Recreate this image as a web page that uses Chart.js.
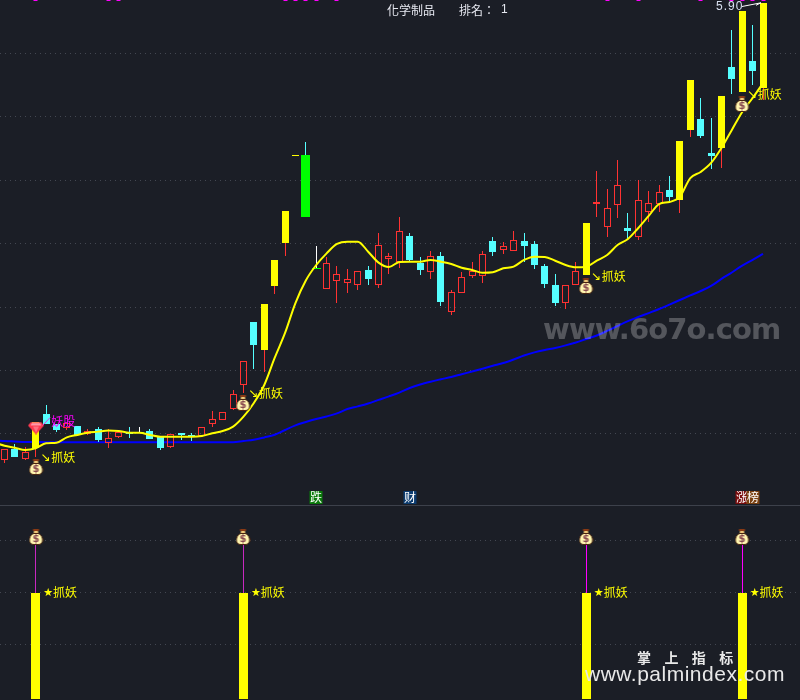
<!DOCTYPE html>
<html>
<head>
<meta charset="utf-8">
<style>
  html, body { margin: 0; padding: 0; background: #1b1e26; }
  canvas { display: block; }
</style>
<script src="https://cdn.jsdelivr.net/npm/chart.js@4/dist/chart.umd.js"></script>
</head>
<body>
<canvas id="myChart" width="800" height="700"></canvas>
<script>
// r = red hollow, c = cyan, y = yellow, g = green, w = white doji
const kinds = ['r','c','r','y','c','c','r','c','r','c','r','r','c','w','c','c','r','c','c','r','r','r','r','r','c','y','y','y','y','g','w','r','r','r','r','c','r','r','r','c','c','r','c','r','r','r','r','c','r','r','c','c','c','c','r','r','y','r','r','r','c','r','r','r','c','y','y','c','c','y','c','y','c','y'];
const opens = [2.295,2.381,2.303,2.389,2.657,2.579,2.547,2.563,2.500,2.539,2.429,2.476,2.516,2.512,2.523,2.476,2.397,2.508,2.492,2.484,2.579,2.610,2.697,2.886,3.383,3.162,3.667,4.005,4.688,4.700,3.805,3.643,3.706,3.690,3.675,3.793,3.675,3.879,3.856,4.061,3.848,3.777,3.903,3.462,3.612,3.746,3.746,4.021,3.950,3.942,4.021,3.998,3.824,3.675,3.532,3.675,3.754,4.313,4.132,4.305,4.124,4.053,4.250,4.313,4.424,4.345,4.897,4.984,4.715,4.755,5.394,5.197,5.441,5.228];
const highs = [2.381,2.421,2.397,2.597,2.728,2.579,2.587,2.563,2.539,2.555,2.539,2.531,2.555,2.555,2.539,2.476,2.500,2.508,2.508,2.555,2.681,2.673,2.846,3.075,3.383,3.525,3.872,4.258,4.696,4.802,3.982,3.895,3.824,3.801,3.785,3.824,4.084,3.927,4.211,4.084,3.895,3.942,3.934,3.635,3.777,3.856,3.942,4.053,4.013,4.100,4.084,4.021,3.840,3.761,3.675,3.856,4.163,4.574,4.432,4.660,4.242,4.502,4.416,4.463,4.534,4.810,5.291,5.149,4.992,5.165,5.685,5.835,5.725,5.900];
const lows = [2.271,2.318,2.295,2.318,2.579,2.516,2.531,2.492,2.492,2.439,2.391,2.468,2.468,2.508,2.460,2.373,2.389,2.452,2.444,2.484,2.555,2.610,2.689,2.823,3.012,2.988,3.604,3.903,4.688,4.211,3.801,3.643,3.532,3.612,3.635,3.675,3.651,3.761,3.809,3.856,3.754,3.722,3.509,3.438,3.612,3.730,3.690,3.903,3.919,3.942,3.856,3.801,3.651,3.509,3.485,3.675,3.754,4.211,4.053,4.203,4.029,4.029,4.171,4.250,4.329,4.242,4.842,4.834,4.589,4.597,5.181,5.197,5.252,5.133];
const closes = [2.381,2.318,2.358,2.597,2.579,2.531,2.587,2.492,2.523,2.452,2.468,2.516,2.500,2.508,2.460,2.389,2.500,2.492,2.476,2.555,2.618,2.673,2.815,3.075,3.201,3.525,3.872,4.258,4.696,4.211,3.801,3.848,3.761,3.722,3.785,3.722,3.990,3.903,4.100,3.872,3.793,3.903,3.540,3.619,3.738,3.785,3.919,3.935,3.982,4.029,3.982,3.832,3.683,3.532,3.675,3.785,4.163,4.329,4.282,4.463,4.100,4.345,4.321,4.408,4.368,4.810,5.291,4.850,4.692,5.165,5.299,5.835,5.362,5.900];
const fastLine = [2.407,2.391,2.373,2.387,2.426,2.431,2.473,2.492,2.510,2.518,2.526,2.523,2.510,2.510,2.492,2.478,2.478,2.478,2.478,2.484,2.505,2.523,2.557,2.636,2.744,2.886,3.099,3.296,3.532,3.710,3.832,3.924,3.998,4.016,4.016,3.937,3.851,3.816,3.856,3.858,3.858,3.872,3.858,3.840,3.811,3.793,3.771,3.775,3.806,3.819,3.872,3.898,3.895,3.866,3.832,3.814,3.819,3.866,3.911,3.990,4.037,4.124,4.219,4.313,4.329,4.371,4.518,4.566,4.637,4.755,4.897,5.039,5.149,5.267];
const slowLine = [2.444,2.440,2.436,2.436,2.435,2.435,2.434,2.434,2.434,2.434,2.434,2.434,2.434,2.434,2.434,2.434,2.434,2.434,2.434,2.434,2.434,2.434,2.434,2.444,2.454,2.472,2.493,2.531,2.567,2.594,2.618,2.638,2.662,2.696,2.717,2.740,2.768,2.796,2.826,2.862,2.890,2.912,2.931,2.949,2.971,2.992,3.014,3.037,3.059,3.087,3.118,3.143,3.162,3.178,3.198,3.221,3.249,3.276,3.312,3.351,3.390,3.422,3.453,3.485,3.520,3.556,3.592,3.627,3.667,3.722,3.773,3.828,3.872,3.919];
// the bar just off the left edge, so both lines run in from the border
const fastBefore = 2.432;
const slowBefore = 2.450;

const priceTicks = [5.5, 5, 4.5, 4, 3.5, 3, 2.5];
const panelTicks = [1, 2, 3];

const signalBars = [3, 23, 56, 71];
const signalBase = -0.034;
const signalLevel = 2;
const signalBagLevel = 3;
const bagPrices = [2.240, 2.744, 3.667, 5.102];
const gemBar = 3;
const gemPrice = 2.543;
const topMarks = [3, 10, 11, 27, 28, 29, 30, 32, 58, 61, 67, 70, 71, 72, 73];
const tags = [
  { bar: 30, text: '跌', bg: '#0a7a0a' },
  { bar: 39, text: '财', bg: '#0c3c70' },
  { bar: 71, text: '涨', bg: '#7a0c0c' },
  { bar: 72, text: '榜', bg: '#7a4010' }
];

const RED = '#ff3232', CYAN = '#55ffff', YELLOW = '#ffff00', GREEN = '#00ff00', MAGENTA = '#ff00ff', WHITE = '#ffffff';
const CJK = '"Noto Sans CJK SC", sans-serif';
const PRICE_MAX = 5.922, PRICE_MIN = 0.4015;
const LOWER_MAX = 13.356, LOWER_MIN = -0.054, PANEL_LINE = 3.672;
const X_MIN = -0.433, X_MAX = 76.56;

const bars = kinds.map((k, i) => i);
const wickColor = { r: RED, c: CYAN, y: RED, g: CYAN, w: WHITE };
const bodyTop = i => Math.max(opens[i], closes[i]);
const bodyBottom = i => Math.min(opens[i], closes[i]);

function bagSprite() {
  const c = document.createElement('canvas');
  c.width = 15; c.height = 16;
  const g = c.getContext('2d');
  g.fillStyle = '#8a3a14';
  g.fillRect(4.5, 0, 6, 2);
  g.fillStyle = '#f0c878';
  g.beginPath();
  g.moveTo(5.5, 2); g.lineTo(9.5, 2); g.lineTo(10, 5); g.lineTo(5, 5);
  g.closePath(); g.fill();
  g.strokeStyle = '#4a2410';
  g.lineWidth = 1;
  g.beginPath();
  g.moveTo(5, 4.5); g.lineTo(10, 4.5);
  g.bezierCurveTo(15.5, 7, 15.5, 15.5, 10, 15.5);
  g.lineTo(5, 15.5);
  g.bezierCurveTo(-0.5, 15.5, -0.5, 7, 5, 4.5);
  g.closePath();
  g.fillStyle = '#fff6b0';
  g.fill(); g.stroke();
  g.fillStyle = '#8a4a50';
  g.font = 'bold 10px "DejaVu Sans"';
  g.textAlign = 'center';
  g.textBaseline = 'middle';
  g.fillText('$', 7.5, 10.5);
  return c;
}

function gemSprite() {
  const c = document.createElement('canvas');
  c.width = 16; c.height = 13;
  const g = c.getContext('2d');
  g.fillStyle = '#ff3a50';
  g.beginPath();
  g.moveTo(3, 0.5); g.lineTo(13, 0.5); g.lineTo(16, 4); g.lineTo(8, 13); g.lineTo(0, 4);
  g.closePath(); g.fill();
  g.fillStyle = '#ff9aa8';
  g.beginPath();
  g.moveTo(4, 1.5); g.lineTo(12, 1.5); g.lineTo(13.5, 4); g.lineTo(2.5, 4);
  g.closePath(); g.fill();
  g.fillStyle = '#ff6f80';
  g.beginPath();
  g.moveTo(5, 5); g.lineTo(11, 5); g.lineTo(8, 11);
  g.closePath(); g.fill();
  return c;
}

const bagIcon = bagSprite();
const gemIcon = gemSprite();

function barSet(data, color, thickness, order, axis, extra) {
  return Object.assign({
    type: 'bar', data: data, backgroundColor: color, barThickness: thickness, order: order,
    yAxisID: axis || 'yP', grouped: false, borderWidth: 0, inflateAmount: 0, snap: true
  }, extra || {});
}

function bodiesOf(kind) {
  return bars.filter(i => kinds[i] === kind).map(i => ({ x: i, y: [opens[i], closes[i]] }));
}

function linePoints(before, values) {
  return [{ x: -1, y: before }].concat(values.map((v, i) => ({ x: i, y: v })));
}

const upperWicks = bars.filter(i => highs[i] > bodyTop(i));
const lowerWicks = bars.filter(i => lows[i] < bodyBottom(i));

const datasets = [
  // separator between the two panels
  { type: 'line', data: [{ x: X_MIN, y: PANEL_LINE }, { x: X_MAX, y: PANEL_LINE }], yAxisID: 'yL',
    borderColor: '#3d414b', borderWidth: 1, pointRadius: 0, order: 12 },
  { type: 'line', data: linePoints(slowBefore, slowLine), yAxisID: 'yP',
    borderColor: '#0000ff', borderWidth: 2, pointRadius: 0, cubicInterpolationMode: 'monotone', order: 9 },

  barSet(upperWicks.map(i => ({ x: i, y: [bodyTop(i), highs[i]] })), upperWicks.map(i => wickColor[kinds[i]]), 1, 8),
  barSet(lowerWicks.map(i => ({ x: i, y: [lows[i], bodyBottom(i)] })), lowerWicks.map(i => wickColor[kinds[i]]), 1, 8),

  barSet(bodiesOf('r'), 'rgba(0,0,0,0)', 7, 6, 'yP', { borderColor: RED, borderWidth: 1, borderSkipped: false }),
  barSet(bodiesOf('c'), CYAN, 7, 6),
  barSet(bodiesOf('y'), YELLOW, 7, 6),
  barSet(bodiesOf('g'), GREEN, 9, 6),
  barSet(bodiesOf('w'), GREEN, 9, 6),

  { type: 'line', data: linePoints(fastBefore, fastLine), yAxisID: 'yP',
    borderColor: YELLOW, borderWidth: 2, pointRadius: 0, cubicInterpolationMode: 'monotone', order: 4 },

  barSet(topMarks.map(i => ({ x: i, y: [5.911, PRICE_MAX] })), MAGENTA, 4, 3),

  // lower panel
  barSet(signalBars.map(i => ({ x: i, y: [signalBase, signalLevel] })), YELLOW, 9, 3, 'yL'),
  barSet(signalBars.map(i => ({ x: i, y: [signalLevel, signalBagLevel] })), ['#c828c0', '#c828c0', MAGENTA, MAGENTA], 1, 3, 'yL'),

  // icons
  { type: 'scatter', data: signalBars.map((i, n) => ({ x: i, y: bagPrices[n] })), yAxisID: 'yP',
    pointStyle: bagIcon, pointRadius: 8, order: 1, snap: true },
  { type: 'scatter', data: signalBars.map(i => ({ x: i, y: signalBagLevel + 0.075 })), yAxisID: 'yL',
    pointStyle: bagIcon, pointRadius: 8, order: 1, snap: true },
  { type: 'scatter', data: [{ x: gemBar, y: gemPrice }], yAxisID: 'yP',
    pointStyle: gemIcon, pointRadius: 8, order: 1, snap: true }
];

// keep bars and icons on whole pixels so they stay crisp
const pixelSnap = {
  id: 'pixelSnap',
  afterDatasetsUpdate(chart) {
    chart.data.datasets.forEach((ds, n) => {
      if (!ds.snap) return;
      chart.getDatasetMeta(n).data.forEach(el => {
        if (ds.type === 'bar') {
          el.x = Math.floor(el.x) + 0.5;
          const top = Math.round(Math.min(el.y, el.base));
          const bottom = Math.max(top + 1, Math.round(Math.max(el.y, el.base)));
          el.y = top;
          el.base = bottom;
          el.height = bottom - top;
        } else {
          el.x = Math.round(el.x);
          el.y = Math.round(el.y);
        }
      });
    });
  }
};

const textLayer = {
  id: 'textLayer',
  afterDraw(chart) {
    const g = chart.ctx;
    const sx = chart.scales.x, sp = chart.scales.yP, sl = chart.scales.yL;
    g.save();
    g.textBaseline = 'middle';
    g.textAlign = 'left';

    // watermarks sit under the labels
    g.font = 'bold 29px "DejaVu Sans"';
    g.letterSpacing = '-0.9px';
    g.fillStyle = 'rgba(255,255,255,0.25)';
    g.fillText('www.6o7o.com', 543, 331);
    g.letterSpacing = '0px';

    // header
    g.font = '12px "Noto Sans CJK TC"';
    g.fillStyle = '#e6e8f0';
    g.fillText('化学制品', 387, 10);
    g.fillText('排名：', 459, 10);
    g.font = '12px "Liberation Sans"';
    g.fillText('1', 501, 10);

    // high price note
    const hx = sx.getPixelForValue(73), hy = sp.getPixelForValue(highs[73]);
    g.font = '12px "Liberation Sans"';
    g.letterSpacing = '1px';
    g.fillStyle = '#d8e0f0';
    g.fillText(highs[73].toFixed(2), 716, 7);
    g.letterSpacing = '0px';
    g.strokeStyle = WHITE;
    g.lineWidth = 1;
    g.beginPath();
    g.moveTo(742, 6.5); g.lineTo(hx - 2, hy);
    g.moveTo(hx - 2, hy); g.lineTo(hx - 7, hy + 2.5);
    g.stroke();

    // signal labels on the price panel
    signalBars.forEach((bar, n) => {
      const x = sx.getPixelForValue(bar), y = sp.getPixelForValue(bagPrices[n]) - 9.5;
      g.fillStyle = YELLOW;
      g.font = '12px "DejaVu Sans"';
      g.fillText('↘', x + 5, y);
      g.font = '12px ' + CJK;
      g.fillText('抓妖', x + 15.5, y);
    });

    // signal labels on the lower panel
    signalBars.forEach(bar => {
      const x = sx.getPixelForValue(bar), y = sl.getPixelForValue(signalLevel);
      g.fillStyle = YELLOW;
      g.font = '11px "DejaVu Sans"';
      g.fillText('★', x + 7.5, y);
      g.font = '12px ' + CJK;
      g.fillText('抓妖', x + 17.3, y);
    });

    // gem note
    const gx = sx.getPixelForValue(gemBar), gy = sp.getPixelForValue(gemPrice);
    g.strokeStyle = '#e040e0';
    g.beginPath();
    g.moveTo(gx + 14.5, gy - 11); g.lineTo(gx + 7, gy - 3);
    g.stroke();
    g.fillStyle = MAGENTA;
    g.font = '12px ' + CJK;
    g.fillText('妖股', gx + 15.5, gy - 7.5);

    // tags above the lower panel
    g.textAlign = 'center';
    tags.forEach(t => {
      const x = Math.round(sx.getPixelForValue(t.bar)), y = sl.getPixelForValue(3.826);
      g.fillStyle = t.bg;
      g.fillRect(x - 6.5, y - 6.5, 13, 13);
      g.fillStyle = WHITE;
      g.font = '12px ' + CJK;
      g.fillText(t.text, x, y);
    });

    // site mark, bottom right
    g.textAlign = 'left';
    g.fillStyle = '#e8e8e8';
    g.font = 'bold 14px ' + CJK;
    ['掌', '上', '指', '标'].forEach((ch, n) => g.fillText(ch, 637 + n * 27.4, 658));
    g.font = '21px "Liberation Sans"';
    g.letterSpacing = '0.5px';
    g.fillText('www.palmindex.com', 585, 675);
    g.letterSpacing = '0px';

    g.restore();
  }
};

const hiddenTicks = { display: false };

new Chart(document.getElementById('myChart'), {
  type: 'bar',
  data: { datasets: datasets },
  plugins: [pixelSnap, textLayer],
  options: {
    responsive: false,
    animation: false,
    layout: { padding: 0, autoPadding: false },
    plugins: { legend: { display: false }, tooltip: { enabled: false }, title: { display: false } },
    scales: {
      x: { type: 'linear', min: X_MIN, max: X_MAX, display: false, offset: false },
      yP: {
        type: 'linear', position: 'left', min: PRICE_MIN, max: PRICE_MAX,
        ticks: hiddenTicks, border: { display: false, dash: [1, 4] },
        grid: { color: '#434751', lineWidth: 1, drawTicks: false },
        afterBuildTicks(axis) { axis.ticks = priceTicks.map(v => ({ value: v })); }
      },
      yL: {
        type: 'linear', position: 'right', min: LOWER_MIN, max: LOWER_MAX,
        ticks: hiddenTicks, border: { display: false, dash: [1, 4] },
        grid: { color: '#434751', lineWidth: 1, drawTicks: false },
        afterBuildTicks(axis) { axis.ticks = panelTicks.map(v => ({ value: v })); }
      }
    }
  }
});
</script>
</body>
</html>
